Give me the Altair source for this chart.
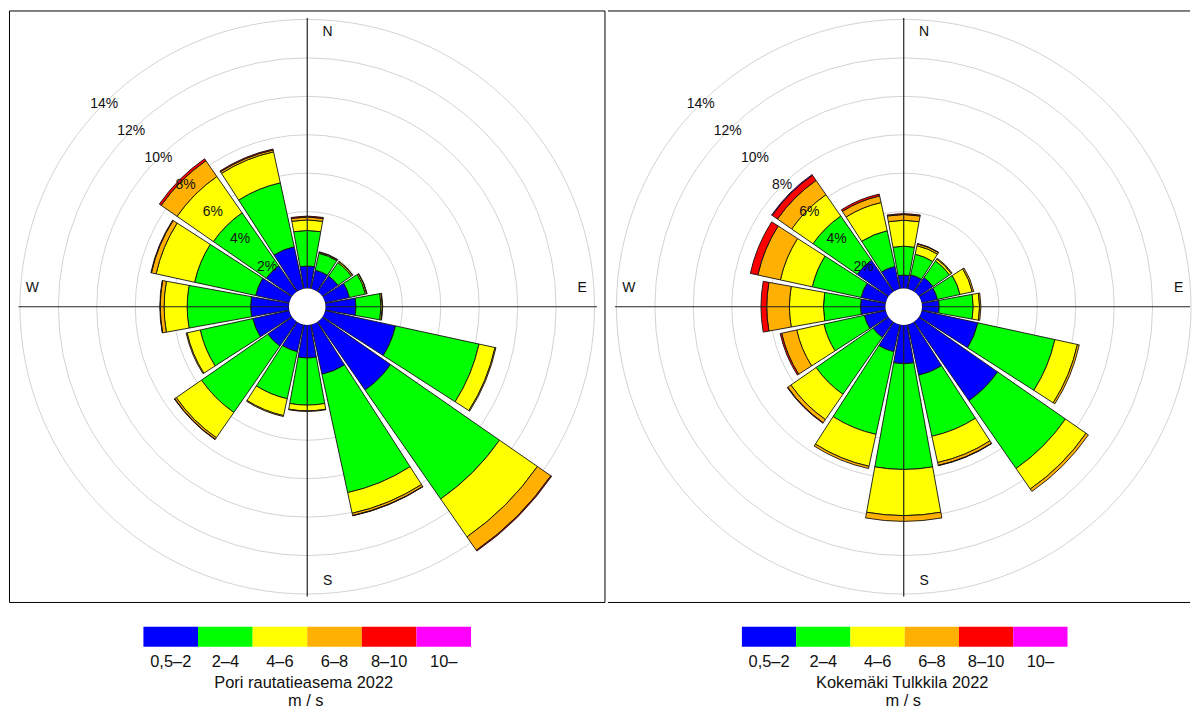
import altair as alt
import pandas as pd

# ---------------- data ----------------
directions = ["N", "NNE", "NE", "ENE", "E", "ESE", "SE", "SSE",
              "S", "SSW", "SW", "WSW", "W", "WNW", "NW", "NNW"]
speed_classes = ["0,5–2", "2–4", "4–6", "6–8", "8–10", "10–"]
class_colors = ["#0000ff", "#00ff00", "#ffff00", "#ffb000", "#ff0000", "#ff00ff"]
grid_values = [2, 4, 6, 8, 10, 12, 14]
compass_ns = ["N", "S"]
compass_ns_index = [0, 8]
compass_ew = ["E", "W"]
compass_ew_index = [4, 12]

# Pori rautatieasema 2022, percent per direction and speed class
pori_05_2 = [1.17, 1.0, 1.0, 1.3, 1.59, 3.75, 4.33, 2.65, 1.72, 1.45, 1.55, 1.95, 2.0, 1.8, 1.65, 2.25]
pori_2_4 = [1.85, 0.9, 0.85, 0.85, 1.3, 4.45, 6.9, 6.3, 2.45, 2.5, 4.2, 2.8, 3.3, 3.25, 3.35, 3.4]
pori_4_6 = [0.55, 0.05, 0.07, 0.07, 0.07, 0.85, 2.4, 1.1, 0.3, 0.9, 1.6, 0.7, 1.2, 2.05, 2.3, 1.65]
pori_6_8 = [0.15, 0.02, 0.02, 0.02, 0.02, 0.05, 0.85, 0.12, 0.03, 0.05, 0.1, 0.05, 0.2, 0.25, 1.0, 0.1]
pori_8_10 = [0.05, 0, 0, 0, 0, 0, 0.05, 0.02, 0, 0, 0.02, 0, 0.02, 0.03, 0.12, 0.05]
pori_10 = [0, 0, 0, 0, 0, 0, 0, 0, 0, 0, 0, 0, 0, 0, 0, 0]

# Kokemäki Tulkkila 2022
koke_05_2 = [0.7, 0.75, 0.9, 0.85, 0.9, 3.0, 5.0, 2.7, 2.02, 1.45, 1.0, 1.15, 1.3, 1.32, 2.0, 1.2]
koke_2_4 = [1.5, 1.1, 1.05, 1.2, 1.77, 4.1, 4.3, 3.25, 5.5, 4.4, 3.6, 2.15, 1.93, 2.6, 2.8, 1.9]
koke_4_6 = [1.35, 0.45, 0.12, 0.65, 0.33, 1.2, 1.3, 1.4, 2.4, 1.7, 1.6, 1.45, 1.77, 1.7, 1.35, 1.5]
koke_6_8 = [0.3, 0.1, 0.05, 0.08, 0.07, 0.1, 0.15, 0.15, 0.3, 0.12, 0.2, 0.8, 1.18, 1.2, 0.9, 0.35]
koke_8_10 = [0.05, 0.02, 0, 0, 0, 0, 0, 0.02, 0, 0, 0.03, 0.08, 0.3, 0.4, 0.33, 0.1]
koke_10 = [0, 0, 0, 0, 0, 0, 0, 0, 0, 0, 0, 0, 0, 0, 0.04, 0]

pori_title = "Pori rautatieasema 2022"
koke_title = "Kokemäki Tulkkila 2022"
unit_label = "m / s"

# ---------------- helpers ----------------
FONT = "Liberation Sans"
TWO_PI = 6.283185307179586
R0, R14 = 18.3, 288.5
ROSE_H = 595
LEG_H = 90


def long_table(series):
    rows = []
    for k, vals in enumerate(series):
        for d, v in enumerate(vals):
            rows.append({"dir": d, "dname": directions[d], "k": k,
                         "cls": speed_classes[k], "value": v})
    return pd.DataFrame(rows)


tscale = alt.Scale(type="linear", domain=[0, 16], range=[0, TWO_PI], nice=False, zero=False)
rscale = alt.Scale(type="linear", domain=[0, 14], range=[R0, R14], nice=False, zero=False)
cscale = alt.Scale(domain=speed_classes, range=class_colors)

grid_df = pd.DataFrame({"g": grid_values})
one_row = pd.DataFrame({"o": [0]})


def rose(df, width, cx, full_border):
    cy = ROSE_H / 2.0
    X = alt.value(cx)
    Y = alt.value(cy)

    grid = alt.Chart(grid_df).mark_arc(filled=False, color="#d3d3d3", strokeWidth=1).encode(
        x=X, y=Y,
        radius=alt.Radius("g:Q", scale=rscale, stack=False),
        theta=alt.value(0),
        theta2=alt.value(TWO_PI),
    )

    bars = (
        alt.Chart(df)
        .transform_filter("datum.value > 0")
        .transform_stack(stack="value", groupby=["dir"], as_=["lo", "hi"],
                         sort=[alt.SortField("k", order="ascending")])
        .transform_calculate(t0="datum.dir - 0.5 + 0.045", t1="datum.dir + 0.5 - 0.045")
        .mark_arc(stroke="#111111", strokeWidth=0.9)
        .encode(
            x=X, y=Y,
            theta=alt.Theta("t0:Q", scale=tscale, stack=False),
            theta2="t1:Q",
            radius=alt.Radius("hi:Q", scale=rscale, stack=False),
            radius2="lo:Q",
            color=alt.Color("cls:N", scale=cscale, legend=None),
        )
    )

    vline = alt.Chart(one_row).mark_rule(color="#222222", strokeWidth=1.2).encode(
        x=alt.value(cx), y=alt.value(cy - 290), y2=alt.value(cy + 291))
    hline = alt.Chart(one_row).mark_rule(color="#222222", strokeWidth=1.2).encode(
        y=alt.value(cy), x=alt.value(cx - 290), x2=alt.value(min(cx + 291, width - 1)))

    hole = alt.Chart(one_row).mark_arc(color="white").encode(
        x=X, y=Y,
        theta=alt.value(0), theta2=alt.value(TWO_PI), radius=alt.value(R0))

    ns_df = pd.DataFrame({"a": compass_ns_index, "lab": compass_ns})
    ew_df = pd.DataFrame({"a": compass_ew_index, "lab": compass_ew})
    ns = alt.Chart(ns_df).mark_text(dx=20.5, fontSize=14, font=FONT, color="#111111",
                                    baseline="middle", align="center").encode(
        x=X, y=Y,
        theta=alt.Theta("a:Q", scale=tscale, stack=False),
        radius=alt.value(275.5),
        text="lab:N")
    ew = alt.Chart(ew_df).mark_text(dy=-19, fontSize=14, font=FONT, color="#111111",
                                    baseline="middle", align="center").encode(
        x=X, y=Y,
        theta=alt.Theta("a:Q", scale=tscale, stack=False),
        radius=alt.value(276),
        text="lab:N")

    pct = (
        alt.Chart(grid_df)
        .transform_calculate(a="14", lab="datum.g + '%'")
        .mark_text(fontSize=14, font=FONT, color="#111111", baseline="middle", align="center")
        .encode(
            x=X, y=Y,
            theta=alt.Theta("a:Q", scale=tscale, stack=False),
            radius=alt.Radius("g:Q", scale=rscale, stack=False),
            text="lab:N")
    )

    layers = [grid, bars, vline, hline, hole, ns, ew, pct]
    if full_border:
        border = alt.Chart(one_row).mark_rect(filled=False, color="black", strokeWidth=1).encode(
            x=alt.value(0.5), x2=alt.value(width - 0.5), y=alt.value(0.5), y2=alt.value(ROSE_H - 0.5))
        layers.append(border)
    else:
        top = alt.Chart(one_row).mark_rule(color="black", strokeWidth=1).encode(
            y=alt.value(0.5), x=alt.value(0.5), x2=alt.value(width - 1))
        bottom = alt.Chart(one_row).mark_rule(color="black", strokeWidth=1).encode(
            y=alt.value(ROSE_H - 0.5), x=alt.value(0.5), x2=alt.value(width - 1))
        layers += [top, bottom]

    return alt.layer(*layers).properties(width=width, height=ROSE_H)


def legend(width, bar_range, title_x, unit_x, title):
    leg_df = pd.DataFrame({"cls": speed_classes, "k": list(range(len(speed_classes)))})
    xscale = alt.Scale(domain=speed_classes, range=bar_range, paddingInner=0, paddingOuter=0)
    boxes = alt.Chart(leg_df).mark_rect().encode(
        x=alt.X("cls:N", scale=xscale, axis=None, sort=speed_classes),
        y=alt.value(22), y2=alt.value(42),
        color=alt.Color("cls:N", scale=cscale, legend=None))
    labels = alt.Chart(leg_df).mark_text(fontSize=16.5, font=FONT, color="#111111",
                                         baseline="alphabetic", align="center").encode(
        x=alt.X("cls:N", scale=xscale, axis=None, sort=speed_classes),
        y=alt.value(62),
        text="cls:N")
    ttl = alt.Chart(one_row).mark_text(fontSize=16.5, font=FONT, color="#111111",
                                       baseline="alphabetic", align="center").encode(
        x=alt.value(title_x), y=alt.value(83), text=alt.value(title))
    unit = alt.Chart(one_row).mark_text(fontSize=16.5, font=FONT, color="#111111",
                                        baseline="alphabetic", align="center").encode(
        x=alt.value(unit_x), y=alt.value(101), text=alt.value(unit_label))
    return alt.layer(boxes, labels, ttl, unit).properties(width=width, height=LEG_H)


pori_df = long_table([pori_05_2, pori_2_4, pori_4_6, pori_6_8, pori_8_10, pori_10])
koke_df = long_table([koke_05_2, koke_2_4, koke_4_6, koke_6_8, koke_8_10, koke_10])

left = alt.vconcat(rose(pori_df, 599, 299.5, True),
                   legend(599, [135, 464], 296, 298, pori_title), spacing=0)
right = alt.vconcat(rose(koke_df, 586, 297.5, False),
                    legend(586, [135, 462], 296, 297, koke_title), spacing=0)

chart = (
    alt.hconcat(left, right, spacing=0, padding=0)
    .resolve_scale(theta="independent", radius="independent", color="independent", x="independent")
    .configure_view(stroke="transparent")
)

chart.save("out.html", embed_options={"renderer": "svg", "actions": False})
